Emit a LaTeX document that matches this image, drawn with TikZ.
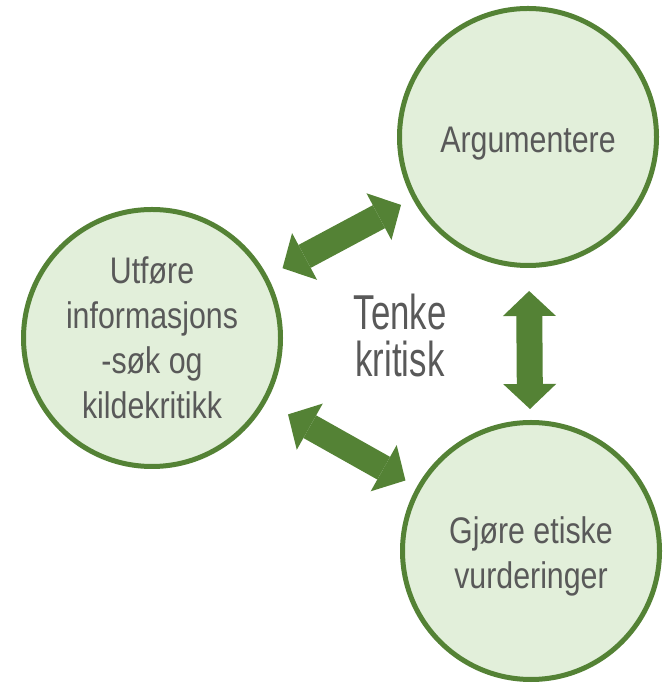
\documentclass[tikz,border=0pt]{standalone}
\usepackage{fontspec}
\setmainfont{Liberation Sans}
\newfontfamily\circlefont[FakeStretch=0.82]{Liberation Sans}
\newfontfamily\centerfont[FakeStretch=0.71]{Liberation Sans}
\usetikzlibrary{arrows.meta,calc}
\definecolor{ringgreen}{HTML}{548235}
\definecolor{palegreen}{HTML}{E2EFDA}
\definecolor{textgray}{HTML}{595959}

\begin{document}
\begin{tikzpicture}[x=1pt,y=1pt,
  topic/.style={circle, draw=ringgreen, fill=palegreen, line width=5pt,
    minimum size=257pt, inner sep=0pt, align=center, text=textgray,
    font=\circlefont\fontsize{37}{45}\selectfont},
  twoway/.style={draw=ringgreen, line width=26pt,
    >={Triangle[width=53pt,length=25pt,line width=0pt]}, <->},
  core/.style={align=center, text=textgray, inner sep=0pt,
    font=\centerfont\fontsize{49}{47}\selectfont},
]
\useasboundingbox (0,0) rectangle (666,685);

% the three activities
\node[topic, text height=38.5pt] (arg)  at (528,548) {Argumentere};
\node[topic] (info) at (152,347) {Utføre\\informasjons\\-søk og\\kildekritikk};
\node[topic, text height=84pt, text depth=8pt] (etik) at (531,134) {Gjøre etiske\\vurderinger};

% the central idea
\node[core] (tenk) at (400,350) {Tenke\\kritisk};

% two-way links between the activities
\draw[twoway] ($(info.center)!148pt!(arg.center)$) -- ($(arg.center)!144pt!(info.center)$);
\draw[twoway] ($(arg.center)!154pt!(etik.center)$) -- ($(etik.center)!142pt!(arg.center)$);
\draw[twoway] ($(info.center)!156pt!(etik.center)$) -- ($(etik.center)!144pt!(info.center)$);
\end{tikzpicture}
\end{document}
